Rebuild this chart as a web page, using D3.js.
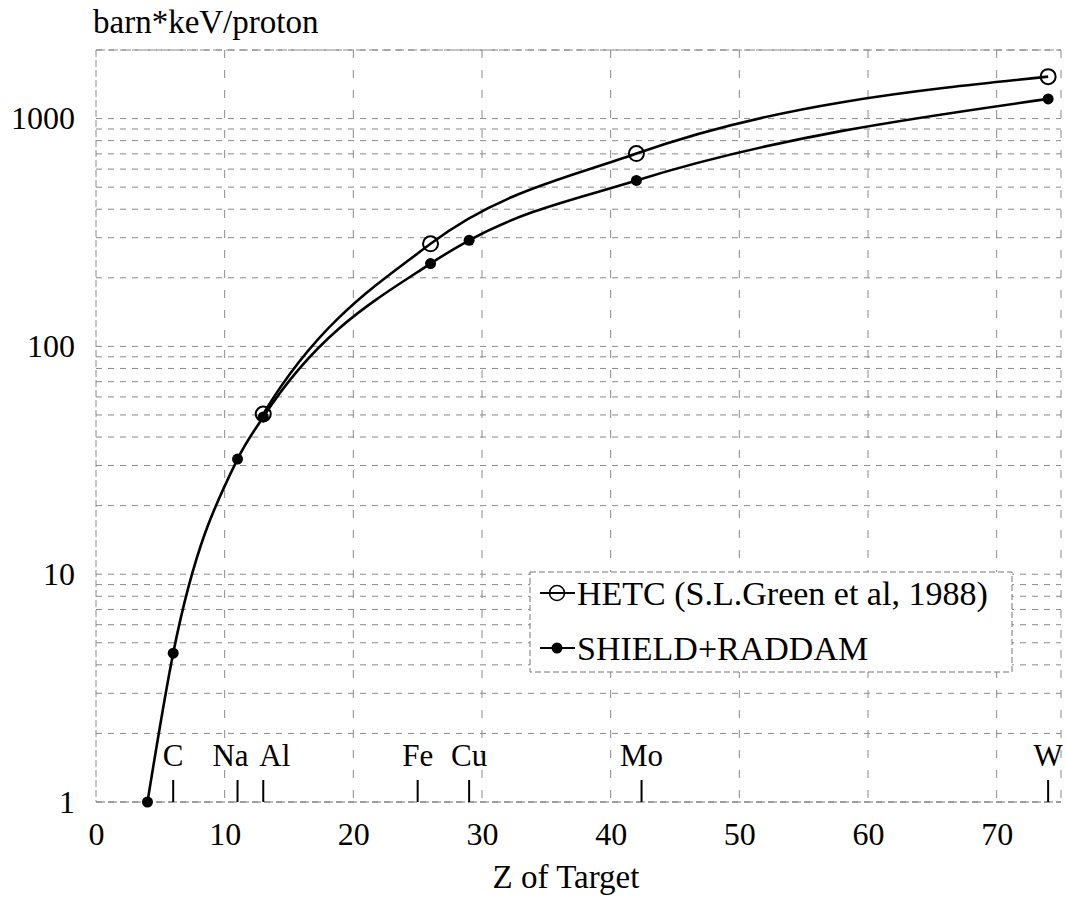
<!DOCTYPE html>
<html>
<head>
<meta charset="utf-8">
<script src="https://cdnjs.cloudflare.com/ajax/libs/d3/7.8.5/d3.min.js"></script>
<style>
  body { margin: 0; background: #fff; }
  text { font-family: "Liberation Serif", "Times New Roman", serif; fill: #000; }
</style>
</head>
<body>
<div id="main"></div>
<script>
// data
var shieldZ = [4, 6, 11, 13, 26, 29, 42, 74];
var shieldVal = [1, 4.5, 32, 49, 231, 292, 535, 1220];
var hetcZ = [13, 26, 42, 74];
var hetcVal = [50.5, 282, 702, 1528];
var elements = ["C", "Na", "Al", "Fe", "Cu", "Mo", "W"];
var elementZ = [6, 11, 13, 25, 29, 42.4, 74];
var xTicks = [0, 10, 20, 30, 40, 50, 60, 70];
var yTicks = [1, 10, 100, 1000];
var legendNames = ["HETC (S.L.Green et al, 1988)", "SHIELD+RADDAM"];

var shield = shieldZ.map(function(z, i) { return {z: z, v: shieldVal[i]}; });
var hetc = hetcZ.map(function(z, i) { return {z: z, v: hetcVal[i]}; });
// HETC line borrows the lower points only for its start tangent, then gets clipped at Al
var hetcLine = shield.filter(function(d) { return d.z < hetcZ[0]; }).concat(hetc);

var pLeft = 96, pRight = 1061, pTop = 50, pBottom = 802;
var svg = d3.select("#main").append("svg")
  .attr("width", 1066)
  .attr("height", 907);//create canvas

var x = d3.scaleLinear().domain([0, 75]).range([pLeft, pRight]);
var y = d3.scaleLog().domain([1, 2000]).range([pBottom, pTop]);

svg.append("clipPath").attr("id", "fromAl").append("rect")
  .attr("x", x(hetcZ[0])).attr("y", 0)
  .attr("width", 1066).attr("height", 907);//clip for HETC line

// minor grid values 1..9 x 10^k
var gridVals = [];
[1, 10, 100, 1000].forEach(function(d) {
  for (var k = 1; k <= 9; k++) if (d * k <= 2000) gridVals.push(d * k);
});

svg.append("g").selectAll("line").data(gridVals).enter().append("line")
  .attr("x1", pLeft).attr("x2", pRight)
  .attr("y1", function(d) { return y(d); })
  .attr("y2", function(d) { return y(d); })
  .attr("stroke", "#8a8a8a")
  .attr("stroke-width", 1)
  .attr("stroke-dasharray", "6,6");//horizontal grid
svg.append("g").selectAll("line").data(xTicks.slice(1).concat([75])).enter().append("line")
  .attr("y1", pTop).attr("y2", pBottom)
  .attr("x1", function(d) { return x(d); })
  .attr("x2", function(d) { return x(d); })
  .attr("stroke", "#8a8a8a")
  .attr("stroke-width", 1)
  .attr("stroke-dasharray", "8,12");//vertical grid
svg.append("line")
  .attr("x1", pLeft).attr("x2", pRight).attr("y1", pTop).attr("y2", pTop)
  .attr("stroke", "#8a8a8a").attr("stroke-dasharray", "9,4");//top edge
svg.append("line")
  .attr("x1", pLeft).attr("x2", pLeft).attr("y1", pTop).attr("y2", pBottom)
  .attr("stroke", "#8a8a8a").attr("stroke-dasharray", "7,3");//left edge
svg.append("line")
  .attr("x1", pLeft).attr("x2", pRight).attr("y1", pBottom).attr("y2", pBottom)
  .attr("stroke", "#777").attr("stroke-dasharray", "9,3");//bottom edge

// axes (labels only, no tick marks)
var xAxis = d3.axisBottom(x).tickValues(xTicks).tickSize(0).tickPadding(14);
var gx = svg.append("g").attr("transform", "translate(0," + pBottom + ")").call(xAxis);
gx.select(".domain").remove();
gx.selectAll("text").style("font-size", "32px").style("font-family", "Liberation Serif").attr("dy", "0.9em");
var yAxis = d3.axisLeft(y).tickValues(yTicks).tickFormat(d3.format("d")).tickSize(0).tickPadding(21);
var gy = svg.append("g").attr("transform", "translate(" + pLeft + ",0)").call(yAxis);
gy.select(".domain").remove();
gy.selectAll("text").style("font-size", "32px").style("font-family", "Liberation Serif");

svg.append("text")
  .attr("x", 93).attr("y", 33)
  .style("font-size", "33px")
  .text("barn*keV/proton");//y label
svg.append("text")
  .attr("x", 566).attr("y", 888)
  .style("font-size", "33px")
  .style("text-anchor", "middle")
  .text("Z of Target");//x label

// element markers
var anchor = {Na: "end", Al: "start"};
var shift = {Na: 11, Al: -4};
var el = svg.append("g").selectAll("g").data(elements).enter().append("g")
  .attr("transform", function(d, i) { return "translate(" + x(elementZ[i]) + ",0)"; });
el.append("line")
  .attr("y1", 780).attr("y2", pBottom)
  .attr("stroke", "#000").attr("stroke-width", 2);
el.append("text")
  .attr("y", 766)
  .attr("x", function(d) { return shift[d] || 0; })
  .style("font-size", "31px")
  .style("text-anchor", function(d) { return anchor[d] || "middle"; })
  .text(function(d) { return d; });

// curves
var line = d3.line()
  .x(function(d) { return x(d.z); })
  .y(function(d) { return y(d.v); })
  .curve(d3.curveMonotoneX);
svg.append("path").datum(shield)
  .attr("d", line).attr("fill", "none").attr("stroke", "#000").attr("stroke-width", 2.6);
svg.append("path").datum(hetcLine)
  .attr("clip-path", "url(#fromAl)")
  .attr("d", line).attr("fill", "none").attr("stroke", "#000").attr("stroke-width", 2.6);
svg.append("g").selectAll("circle").data(shield).enter().append("circle")
  .attr("cx", function(d) { return x(d.z); })
  .attr("cy", function(d) { return y(d.v); })
  .attr("r", 5.5).attr("fill", "#000");//filled dots
svg.append("g").selectAll("circle").data(hetc).enter().append("circle")
  .attr("cx", function(d) { return x(d.z); })
  .attr("cy", function(d) { return y(d.v); })
  .attr("r", 7.5).attr("fill", "none").attr("stroke", "#000").attr("stroke-width", 2);//open dots

// legend
var lg = svg.append("g");
lg.append("rect")
  .attr("x", 530).attr("y", 572).attr("width", 482).attr("height", 100)
  .attr("fill", "#fff").attr("stroke", "#777").attr("stroke-dasharray", "6,3");
var items = lg.selectAll(".legend").data(legendNames).enter().append("g")
  .attr("class", "legend")
  .attr("transform", function(d, i) { return "translate(0," + (593 + i * 55) + ")"; });
items.append("line")
  .attr("x1", 540).attr("x2", 575)
  .attr("stroke", "#000").attr("stroke-width", 2);
items.append("circle")
  .attr("cx", 557).attr("r", function(d, i) { return i ? 5.5 : 7.5; })
  .attr("fill", function(d, i) { return i ? "#000" : "none"; })
  .attr("stroke", "#000").attr("stroke-width", function(d, i) { return i ? 0 : 1.6; });
items.append("text")
  .attr("x", 577).attr("dy", "0.35em")
  .style("font-size", "34px")
  .text(function(d) { return d; });
</script>
</body>
</html>
